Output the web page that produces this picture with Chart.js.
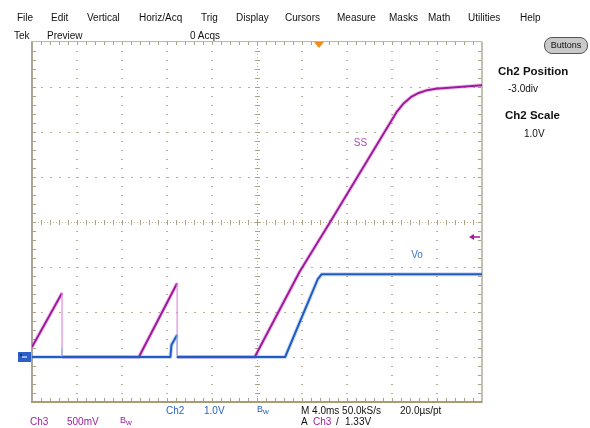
<!DOCTYPE html>
<html>
<head>
<meta charset="utf-8">
<script src="https://cdn.jsdelivr.net/npm/chart.js@4.4.0/dist/chart.umd.min.js"></script>
<style>
body { margin: 0; background: #fff; }
#wrap { position: relative; width: 590px; height: 428px; overflow: hidden;
        font-family: "Liberation Sans", Arial, sans-serif; font-size: 10px; color: #111; }
#wrap canvas { position: absolute; left: 0; top: 0; }
.t { position: absolute; white-space: nowrap; line-height: 12px; }
.mag { color: #a0209c; }
.blu { color: #2a62c4; }
.bold { font-weight: bold; font-size: 11.5px; }
.bw { font-size: 9px; }
.bw sub { font-size: 8px; vertical-align: -2px; }
#btn { position: absolute; left: 544px; top: 37px; width: 42px; height: 15px; border: 1px solid #555;
       border-radius: 8px; background: #c9c9c9; font-size: 9px; text-align: center; line-height: 15px; }
</style>
</head>
<body>
<div id="wrap">
  <canvas id="scope" width="590" height="428"></canvas>

  <div class="t" style="left:17px;top:12px">File</div>
  <div class="t" style="left:51px;top:12px">Edit</div>
  <div class="t" style="left:87px;top:12px">Vertical</div>
  <div class="t" style="left:139px;top:12px">Horiz/Acq</div>
  <div class="t" style="left:201px;top:12px">Trig</div>
  <div class="t" style="left:236px;top:12px">Display</div>
  <div class="t" style="left:285px;top:12px">Cursors</div>
  <div class="t" style="left:337px;top:12px">Measure</div>
  <div class="t" style="left:389px;top:12px">Masks</div>
  <div class="t" style="left:428px;top:12px">Math</div>
  <div class="t" style="left:468px;top:12px">Utilities</div>
  <div class="t" style="left:520px;top:12px">Help</div>

  <div class="t" style="left:14px;top:30px">Tek</div>
  <div class="t" style="left:47px;top:30px">Preview</div>
  <div class="t" style="left:190px;top:30px">0 Acqs</div>

  <div id="btn">Buttons</div>
  <div class="t bold" style="left:498px;top:65px">Ch2 Position</div>
  <div class="t" style="left:508px;top:83px">-3.0div</div>
  <div class="t bold" style="left:505px;top:109px">Ch2 Scale</div>
  <div class="t" style="left:524px;top:128px">1.0V</div>

  <div class="t blu" style="left:166px;top:405px">Ch2</div>
  <div class="t blu" style="left:204px;top:405px">1.0V</div>
  <div class="t blu bw" style="left:257px;top:403px">B<sub>w</sub></div>
  <div class="t" style="left:301px;top:405px">M 4.0ms 50.0kS/s</div>
  <div class="t" style="left:400px;top:405px">20.0µs/pt</div>

  <div class="t mag" style="left:30px;top:416px">Ch3</div>
  <div class="t mag" style="left:67px;top:416px">500mV</div>
  <div class="t mag bw" style="left:120px;top:414px">B<sub>w</sub></div>
  <div class="t" style="left:301px;top:416px">A</div>
  <div class="t mag" style="left:313px;top:416px">Ch3</div>
  <div class="t" style="left:336px;top:416px">/</div>
  <div class="t" style="left:345px;top:416px">1.33V</div>
</div>

<script>
// screen time from left edge, ms (4.0 ms/div, 10 div)
const ssTime = [0, 2.67, 2.67, 9.5, 12.9, 12.9, 19.8, 23.8, 26.6, 32.4, 33.05, 33.7, 34.3, 35.0, 35.9, 40];
// Ch3 SS, volts (500 mV/div)
const ssVolts = [0.11, 0.71, 0, 0, 0.82, 0, 0, 0.95, 1.52, 2.72, 2.82, 2.89, 2.93, 2.96, 2.98, 3.02];

const voTime = [0, 2.67, 2.67, 2.67, 12.3, 12.4, 12.9, 12.9, 22.5, 25.0, 25.4, 25.75, 40];
// Ch2 Vo, volts (1.0 V/div)
const voVolts = [0, 0, 0.2, 0, 0, 0.27, 0.49, 0, 0, 1.49, 1.73, 1.84, 1.84];

const trigLevel = 1.33;   // Ch3 trigger, volts
const trigTime = 25.5;    // trigger position marker, ms

const ssColor = "#a0199c";
const voColor = "#1f5cc4";

function pts(xs, ys) {
    return xs.map((x, i) => ({ x: x, y: ys[i] }));
}

// vertical (instant) edges are drawn lighter and thinner
function edge(light) {
    return {
        borderColor: ctx => ctx.p0.parsed.x === ctx.p1.parsed.x ? light : undefined,
        borderWidth: ctx => ctx.p0.parsed.x === ctx.p1.parsed.x ? 1.2 : undefined
    };
}

const graticule = {
    id: "graticule",
    beforeDatasetsDraw(chart) {
        const c = chart.ctx;
        const xs = chart.scales.x, yd = chart.scales.yd;
        const a = chart.chartArea;
        c.save();
        c.fillStyle = "#b8b094";
        // dotted division lines
        for (let i = 1; i < 10; i++) {
            if (i === 5) continue;
            const px = Math.round(xs.getPixelForValue(i * 4));
            for (let k = 1; k < 40; k++) {
                const py = Math.round(yd.getPixelForValue(-4 + k * 0.2));
                c.fillRect(px - 1, py, 2, 1);
            }
        }
        for (let j = -3; j < 4; j++) {
            if (j === 0) continue;
            const py = Math.round(yd.getPixelForValue(j));
            for (let k = 1; k < 50; k++) {
                const px = Math.round(xs.getPixelForValue(k * 0.8));
                c.fillRect(px, py, 2, 1);
            }
        }
        // centre lines with minor ticks
        const cx = Math.round(xs.getPixelForValue(20));
        const cy = Math.round(yd.getPixelForValue(0));
        c.fillStyle = "#bcb49a";
        for (let p = a.top; p < a.bottom; p += 3) c.fillRect(cx, p, 1, 1);
        for (let p = a.left; p < a.right; p += 3) c.fillRect(p, cy, 1, 1);
        c.fillStyle = "#aaa283";
        for (let k = 1; k < 40; k++) {
            const py = Math.round(yd.getPixelForValue(-4 + k * 0.2));
            c.fillRect(cx - 2, py, 5, 1);
            c.fillRect(a.left, py, 4, 1);
            c.fillRect(a.right - 4, py, 4, 1);
        }
        for (let k = 1; k < 50; k++) {
            const px = Math.round(xs.getPixelForValue(k * 0.8));
            c.fillRect(px, cy - 2, 1, 5);
            c.fillRect(px, a.top, 1, 3);
            c.fillRect(px, a.bottom - 4, 1, 4);
        }
        // frame
        c.fillStyle = "#aca699";
        c.fillRect(a.left - 1, a.top, 2, a.bottom - a.top + 1);
        c.fillStyle = "#c4c0b4";
        c.fillRect(a.right - 1, a.top, 2, a.bottom - a.top + 1);
        c.fillStyle = "#a89c74";
        c.fillRect(a.left - 1, a.bottom - 1, a.right - a.left + 1, 2);
        c.fillStyle = "#a6cf6a";
        c.fillRect(a.left - 1, a.top - 1, a.right - a.left + 1, 1);
        c.restore();
    },
    afterDatasetsDraw(chart) {
        const c = chart.ctx;
        const a = chart.chartArea;
        const xs = chart.scales.x, y3 = chart.scales.y3, y2 = chart.scales.y2;
        c.save();
        // trigger position marker
        const tx = Math.round(xs.getPixelForValue(trigTime));
        c.fillStyle = "#f08c1c";
        c.beginPath();
        c.moveTo(tx - 5, a.top);
        c.lineTo(tx + 5, a.top);
        c.lineTo(tx, a.top + 6);
        c.closePath();
        c.fill();
        // trigger level arrow
        const ty = Math.round(y3.getPixelForValue(trigLevel));
        c.strokeStyle = ssColor;
        c.fillStyle = ssColor;
        c.lineWidth = 1.5;
        c.beginPath();
        c.moveTo(a.right - 10, ty);
        c.lineTo(a.right - 2, ty);
        c.stroke();
        c.beginPath();
        c.moveTo(a.right - 13, ty);
        c.lineTo(a.right - 8, ty - 3);
        c.lineTo(a.right - 8, ty + 3);
        c.closePath();
        c.fill();
        // ground marker
        const gy = Math.round(y2.getPixelForValue(0));
        c.fillStyle = "#2a5fc8";
        c.fillRect(a.left - 14, gy - 5, 13, 10);
        c.fillStyle = "#9bb8ea";
        c.fillRect(a.left - 10, gy - 1, 5, 2);
        c.fillStyle = "#0c2a70";
        c.fillRect(a.left - 12, gy - 3, 2, 2);
        // trace labels
        c.font = "10px 'Liberation Sans', Arial, sans-serif";
        c.textBaseline = "middle";
        c.fillStyle = "#b04cb0";
        c.fillText("SS", xs.getPixelForValue(28.6), y3.getPixelForValue(2.38));
        c.fillStyle = "#3b74d0";
        c.fillText("Vo", xs.getPixelForValue(33.7), y2.getPixelForValue(2.27));
        c.restore();
    }
};

new Chart(document.getElementById("scope"), {
    type: "scatter",
    data: {
        datasets: [
            {
                data: pts(voTime, voVolts), yAxisID: "y2", showLine: true, order: 0,
                borderColor: voColor, borderWidth: 2, pointRadius: 0,
                segment: edge("#8fb2ea")
            },
            {
                data: pts(ssTime, ssVolts), yAxisID: "y3", showLine: true, order: 1,
                borderColor: ssColor, borderWidth: 2, pointRadius: 0,
                segment: edge("#e08ce0")
            },
            {
                data: pts(voTime, voVolts), yAxisID: "y2", showLine: true, order: 2,
                borderColor: "rgba(80,130,220,0.3)", borderWidth: 4, pointRadius: 0,
                segment: edge("rgba(0,0,0,0)")
            },
            {
                data: pts(ssTime, ssVolts), yAxisID: "y3", showLine: true, order: 3,
                borderColor: "rgba(190,80,190,0.3)", borderWidth: 4, pointRadius: 0,
                segment: edge("rgba(0,0,0,0)")
            }
        ]
    },
    options: {
        responsive: false,
        animation: false,
        layout: { padding: { left: 32, right: 108, top: 42, bottom: 26 } },
        plugins: { legend: { display: false }, tooltip: { enabled: false } },
        elements: { line: { tension: 0, borderJoinStyle: "round" } },
        scales: {
            x: { type: "linear", min: 0, max: 40, display: false },
            yd: { type: "linear", min: -4, max: 4, display: false },
            y3: { type: "linear", min: -0.5, max: 3.5, display: false },
            y2: { type: "linear", min: -1, max: 7, display: false }
        }
    },
    plugins: [graticule]
});
</script>
</body>
</html>
